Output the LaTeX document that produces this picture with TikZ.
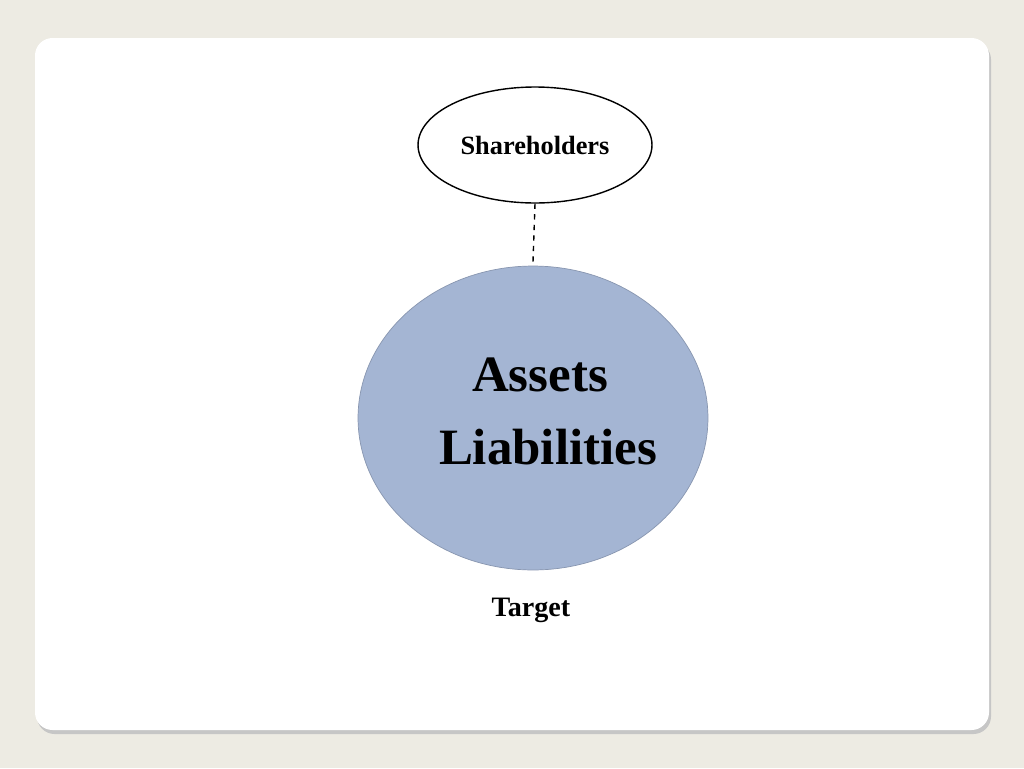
\documentclass[tikz,border=0pt]{standalone}
\usepackage{fontspec}
\setmainfont{Liberation Serif}
\usetikzlibrary{shapes.geometric,calc}
\definecolor{bg}{HTML}{EDEBE3}
\definecolor{blob}{HTML}{A4B5D3}
\definecolor{blobline}{HTML}{8896B0}
\begin{document}
\begin{tikzpicture}[x=0.02cm,y=-0.02cm]
\useasboundingbox (0,0) rectangle (1024,768);
\fill[bg] (0,0) rectangle (1024,768);
\fill[gray!45,rounded corners=10] (37,42) rectangle (991,734);
\fill[white,rounded corners=10] (35,38) rectangle (989,730);
\node[draw,thick,ellipse,minimum width=4.68cm,minimum height=2.32cm,inner sep=0,font=\bfseries\fontsize{15}{18}\selectfont] (sh) at (535,145) {Shareholders};
\node[ellipse,draw=blobline,fill=blob,minimum width=7cm,minimum height=6.08cm,inner sep=0] (tg) at (533,418) {};
\node[font=\bfseries\fontsize{29}{35}\selectfont] (as) at (540,375) {Assets};
\node[font=\bfseries\fontsize{29}{35}\selectfont] (li) at (548,447) {Liabilities};
\node[font=\bfseries\fontsize{16}{19}\selectfont] (tl) at (531,610) {Target};
\draw[thick,dashed] (sh.south) -- ($(tg.north)+(0,-4)$);
\end{tikzpicture}
\end{document}
